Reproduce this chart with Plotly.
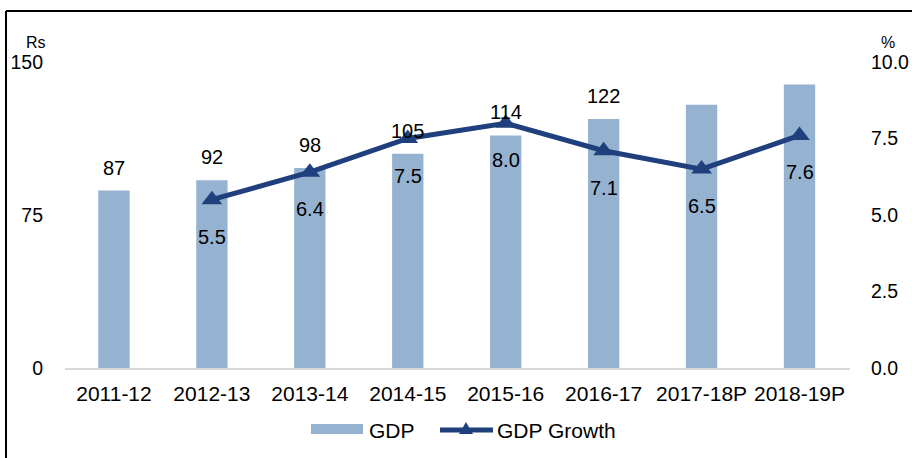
import plotly.graph_objects as go

categories = ["2011-12", "2012-13", "2013-14", "2014-15", "2015-16", "2016-17", "2017-18P", "2018-19P"]
gdp = [87, 92, 98, 105, 114, 122, 129, 139]
gdp_labels = ["87", "92", "98", "105", "114", "122", "", ""]
growth_cats = ["2012-13", "2013-14", "2014-15", "2015-16", "2016-17", "2017-18P", "2018-19P"]
growth = [5.5, 6.4, 7.5, 8.0, 7.1, 6.5, 7.6]
left_ticks = [0, 75, 150]
right_ticks = [0.0, 2.5, 5.0, 7.5, 10.0]

FONT = "Liberation Sans, Arial, sans-serif"
BAR_COLOR = "#95B3D0"
LINE_COLOR = "#1F3F7D"

W, H = 912, 458
L, R, T, B = 65, 62, 62, 90
PW, PH = W - L - R, H - T - B


def px(x):
    return (x - L) / PW


def py(y):
    return (H - B - y) / PH


fig = go.Figure()
fig.add_trace(go.Bar(
    x=categories, y=gdp, name="GDP", marker=dict(color=BAR_COLOR, line=dict(width=0)),
    width=0.32, yaxis="y", showlegend=False,
))
fig.add_trace(go.Scatter(
    x=growth_cats, y=growth, name="GDP Growth", mode="lines+markers",
    line=dict(color=LINE_COLOR, width=5),
    marker=dict(symbol="triangle-up", size=18, color=LINE_COLOR),
    yaxis="y2", showlegend=False,
))

for c, v, t in zip(categories, gdp, gdp_labels):
    if t:
        fig.add_annotation(x=c, y=v, xref="x", yref="y", text=t, showarrow=False,
                           yshift=23, font=dict(size=20, color="#000000", family=FONT))
for c, v in zip(growth_cats, growth):
    fig.add_annotation(x=c, y=v, xref="x", yref="y2", text=f"{v:.1f}", showarrow=False,
                       yshift=-37, font=dict(size=20, color="#000000", family=FONT))

fig.add_annotation(x=px(36), y=py(42), xref="paper", yref="paper", text="Rs", showarrow=False,
                   xanchor="center", yanchor="middle",
                   font=dict(size=16, color="#000000", family=FONT))
fig.add_annotation(x=px(888), y=py(42), xref="paper", yref="paper", text="%", showarrow=False,
                   xanchor="center", yanchor="middle",
                   font=dict(size=16, color="#000000", family=FONT))

# frame (left and top border)
fig.add_shape(type="line", xref="paper", yref="paper", x0=px(6), x1=px(6), y0=py(11), y1=py(470),
              line=dict(color="#000000", width=2))
fig.add_shape(type="line", xref="paper", yref="paper", x0=px(6), x1=px(920), y0=py(11), y1=py(11),
              line=dict(color="#000000", width=2))

# custom legend
fig.add_shape(type="rect", xref="paper", yref="paper", x0=px(311), x1=px(363), y0=py(424), y1=py(434),
              line=dict(width=0), fillcolor=BAR_COLOR)
fig.add_annotation(x=px(367), y=py(430), xref="paper", yref="paper", text="GDP", showarrow=False,
                   xanchor="left", yanchor="middle",
                   font=dict(size=21, color="#000000", family=FONT))
fig.add_shape(type="line", xref="paper", yref="paper", x0=px(440), x1=px(493), y0=py(430), y1=py(430),
              line=dict(color=LINE_COLOR, width=5))
fig.add_shape(type="path", xref="paper", yref="paper",
              path=f"M {px(459)},{py(434)} L {px(473)},{py(434)} L {px(466)},{py(422)} Z",
              line=dict(width=0), fillcolor=LINE_COLOR)
fig.add_annotation(x=px(495), y=py(430), xref="paper", yref="paper", text="GDP Growth", showarrow=False,
                   xanchor="left", yanchor="middle",
                   font=dict(size=21, color="#000000", family=FONT))

fig.update_layout(
    width=W, height=H,
    margin=dict(l=L, r=R, t=T, b=B, autoexpand=False),
    paper_bgcolor="white", plot_bgcolor="white",
    font=dict(family=FONT, size=20, color="#000000"),
    showlegend=False,
    xaxis=dict(type="category", categoryorder="array", categoryarray=categories,
               showgrid=False, showline=True, linecolor="#D9D9D9", linewidth=2,
               ticks="", tickfont=dict(size=21), ticklabelstandoff=6, zeroline=False,
               automargin=False),
    yaxis=dict(range=[0, 150], tickvals=left_ticks, ticktext=[str(v) for v in left_ticks],
               showgrid=False, zeroline=False, showline=False, ticks="",
               tickfont=dict(size=19.5), ticklabelstandoff=21, automargin=False),
    yaxis2=dict(range=[0, 10], tickvals=right_ticks, ticktext=[f"{v:.1f}" for v in right_ticks],
                overlaying="y", side="right", showgrid=False, zeroline=False, showline=False,
                ticks="", tickfont=dict(size=19.5), ticklabelstandoff=20, automargin=False),
)

fig.write_html("out.html", config={"displayModeBar": False},
               post_script="document.body.style.margin='0';document.body.style.overflow='hidden';")
